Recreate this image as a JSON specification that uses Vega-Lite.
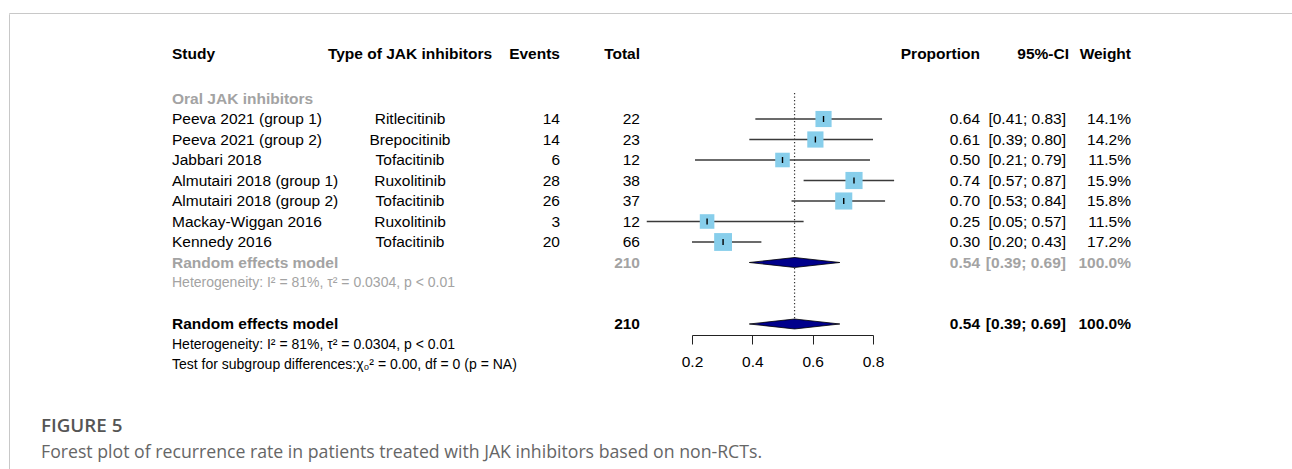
{
  "$schema": "https://vega.github.io/schema/vega-lite/v6.json",
  "padding": {"left": 8, "top": 12, "right": 0, "bottom": 0},
  "background": "white",
  "config": {
    "view": {"stroke": null},
    "font": "Liberation Sans",
    "text": {"font": "Liberation Sans", "fontSize": 15.5},
    "concat": {"spacing": 0}
  },
  "datasets": {
    "rows": [
      {"line": 0.83, "kind": "header", "study": "Study", "type": "Type of JAK inhibitors", "events": "Events", "total": "Total", "proportion": "Proportion", "ci": "95%-CI", "weight_label": "Weight"},
      {"line": 3, "kind": "group", "study": "Oral JAK inhibitors"},
      {"line": 4, "kind": "study", "study": "Peeva 2021 (group 1)", "type": "Ritlecitinib", "events": "14", "total": "22", "proportion": "0.64", "ci": "[0.41; 0.83]", "weight_label": "14.1%", "weight": 14.1, "est": 0.636, "lo": 0.41, "hi": 0.83},
      {"line": 5, "kind": "study", "study": "Peeva 2021 (group 2)", "type": "Brepocitinib", "events": "14", "total": "23", "proportion": "0.61", "ci": "[0.39; 0.80]", "weight_label": "14.2%", "weight": 14.2, "est": 0.609, "lo": 0.39, "hi": 0.80},
      {"line": 6, "kind": "study", "study": "Jabbari 2018", "type": "Tofacitinib", "events": "6", "total": "12", "proportion": "0.50", "ci": "[0.21; 0.79]", "weight_label": "11.5%", "weight": 11.5, "est": 0.50, "lo": 0.21, "hi": 0.79},
      {"line": 7, "kind": "study", "study": "Almutairi 2018 (group 1)", "type": "Ruxolitinib", "events": "28", "total": "38", "proportion": "0.74", "ci": "[0.57; 0.87]", "weight_label": "15.9%", "weight": 15.9, "est": 0.737, "lo": 0.57, "hi": 0.87},
      {"line": 8, "kind": "study", "study": "Almutairi 2018 (group 2)", "type": "Tofacitinib", "events": "26", "total": "37", "proportion": "0.70", "ci": "[0.53; 0.84]", "weight_label": "15.8%", "weight": 15.8, "est": 0.703, "lo": 0.53, "hi": 0.84},
      {"line": 9, "kind": "study", "study": "Mackay-Wiggan 2016", "type": "Ruxolitinib", "events": "3", "total": "12", "proportion": "0.25", "ci": "[0.05; 0.57]", "weight_label": "11.5%", "weight": 11.5, "est": 0.25, "lo": 0.05, "hi": 0.57},
      {"line": 10, "kind": "study", "study": "Kennedy 2016", "type": "Tofacitinib", "events": "20", "total": "66", "proportion": "0.30", "ci": "[0.20; 0.43]", "weight_label": "17.2%", "weight": 17.2, "est": 0.303, "lo": 0.20, "hi": 0.43},
      {"line": 11, "kind": "sub_model", "study": "Random effects model", "total": "210", "proportion": "0.54", "ci": "[0.39; 0.69]", "weight_label": "100.0%", "est": 0.54, "lo": 0.39, "hi": 0.69},
      {"line": 12, "kind": "sub_het", "study": "Heterogeneity: I² = 81%, τ² = 0.0304, p < 0.01"},
      {"line": 14, "kind": "model", "study": "Random effects model", "total": "210", "proportion": "0.54", "ci": "[0.39; 0.69]", "weight_label": "100.0%", "est": 0.54, "lo": 0.39, "hi": 0.69},
      {"line": 15, "kind": "het", "study": "Heterogeneity: I² = 81%, τ² = 0.0304, p < 0.01"},
      {"line": 16, "kind": "test", "study": "Test for subgroup differences:χ₀² = 0.00, df = 0 (p = NA)"}
    ]
  },
  "spacing": 0,
  "bounds": "flush",
  "vconcat": [
    {
      "width": 1284, "height": 0.01,
      "view": {"stroke": "#c8c8c8", "strokeWidth": 1},
      "data": {"values": []},
      "mark": "text",
      "encoding": {"text": {"field": "t", "type": "nominal"}}
    },
    {
      "spacing": 46,
      "bounds": "flush",
      "hconcat": [
        {
          "width": 0.01, "height": 460,
          "view": {"stroke": "#c8c8c8", "strokeWidth": 1},
          "data": {"values": []},
          "mark": "text",
          "encoding": {"text": {"field": "t", "type": "nominal"}}
        },
        {
          "title": {
            "text": "FIGURE 5",
            "subtitle": "Forest plot of recurrence rate in patients treated with JAK inhibitors based on non-RCTs.",
            "orient": "bottom", "anchor": "start", "dx": -15, "offset": 43,
            "font": "Open Sans", "fontSize": 18.8, "fontWeight": 600, "color": "#555555",
            "subtitleFont": "Open Sans", "subtitleFontSize": 17.7, "subtitleColor": "#666666", "subtitlePadding": 8
          },
          "spacing": 0,
          "bounds": "flush",
          "hconcat": [
            {
              "width": 232, "height": 360,
              "data": {"name": "rows"},
              "transform": [{"filter": "datum.study != null"}],
              "encoding": {
                "y": {"field": "line", "type": "quantitative", "scale": {"domain": [-1.122, 16.439], "reverse": true, "nice": false, "zero": false}, "axis": null},
                "text": {"field": "study", "type": "nominal"},
                "color": {"field": "kind", "type": "nominal", "legend": null,
                  "scale": {"domain": ["header", "group", "study", "sub_model", "sub_het", "model", "het", "test"], "range": ["#000000", "#a3a3a3", "#000000", "#a3a3a3", "#a3a3a3", "#000000", "#000000", "#000000"]}}
              },
              "layer": [
                {"transform": [{"filter": {"field": "kind", "oneOf": ["header", "group", "sub_model", "model"]}}], "mark": {"type": "text", "align": "left", "fontWeight": "bold"}},
                {"transform": [{"filter": {"field": "kind", "oneOf": ["study"]}}], "mark": {"type": "text", "align": "left"}},
                {"transform": [{"filter": {"field": "kind", "oneOf": ["sub_het", "het", "test"]}}], "mark": {"type": "text", "align": "left", "fontSize": 14}}
              ]
            },
            {
              "width": 244, "height": 360,
              "data": {"name": "rows"},
              "transform": [{"filter": "datum.type != null"}],
              "encoding": {
                "y": {"field": "line", "type": "quantitative", "scale": {"domain": [-1.122, 16.439], "reverse": true, "nice": false, "zero": false}, "axis": null},
                "text": {"field": "type", "type": "nominal"},
                "color": {"field": "kind", "type": "nominal", "legend": null}
              },
              "layer": [
                {"transform": [{"filter": {"field": "kind", "oneOf": ["header", "group", "sub_model", "model"]}}], "mark": {"type": "text", "align": "center", "fontWeight": "bold"}},
                {"transform": [{"filter": {"field": "kind", "oneOf": ["study"]}}], "mark": {"type": "text", "align": "center"}}
              ]
            },
            {
              "width": 56, "height": 360,
              "data": {"name": "rows"},
              "transform": [{"filter": "datum.events != null"}],
              "encoding": {
                "y": {"field": "line", "type": "quantitative", "scale": {"domain": [-1.122, 16.439], "reverse": true, "nice": false, "zero": false}, "axis": null},
                "text": {"field": "events", "type": "nominal"},
                "color": {"field": "kind", "type": "nominal", "legend": null}
              },
              "layer": [
                {"transform": [{"filter": {"field": "kind", "oneOf": ["header", "group", "sub_model", "model"]}}], "mark": {"type": "text", "align": "right", "fontWeight": "bold"}},
                {"transform": [{"filter": {"field": "kind", "oneOf": ["study"]}}], "mark": {"type": "text", "align": "right"}}
              ]
            },
            {
              "width": 104, "height": 360,
              "data": {"name": "rows"},
              "transform": [{"filter": "datum.total != null"}],
              "encoding": {
                "y": {"field": "line", "type": "quantitative", "scale": {"domain": [-1.122, 16.439], "reverse": true, "nice": false, "zero": false}, "axis": null},
                "text": {"field": "total", "type": "nominal"},
                "color": {"field": "kind", "type": "nominal", "legend": null}
              },
              "layer": [
                {"transform": [{"filter": {"field": "kind", "oneOf": ["header", "group", "sub_model", "model"]}}], "mark": {"type": "text", "align": "right", "fontWeight": "bold"}},
                {"transform": [{"filter": {"field": "kind", "oneOf": ["study"]}}], "mark": {"type": "text", "align": "right"}}
              ]
            },
            {
              "width": 181, "height": 321,
              "data": {"name": "rows"},
              "encoding": {
                "y": {"field": "line", "type": "quantitative", "scale": {"domain": [-1.122, 14.537], "reverse": true, "nice": false, "zero": false}, "axis": null}
              },
              "layer": [
                {
                  "transform": [{"filter": "datum.kind == 'model'"}],
                  "mark": {"type": "rule", "color": "#333333", "strokeWidth": 1.2, "strokeDash": [1.2, 2.3], "yOffset": -231},
                  "encoding": {
                    "x": {"field": "est", "type": "quantitative", "title": null,
                      "scale": {"domain": [0.2, 0.8], "nice": false, "zero": false},
                      "axis": {"values": [0.2, 0.4, 0.6, 0.8], "format": ".1f", "grid": false, "domainColor": "#222222", "tickColor": "#222222", "tickSize": 9, "labelFontSize": 15.5, "labelFont": "Liberation Sans", "labelColor": "#000000", "labelPadding": 10, "labelFlush": false}},
                    "y2": {"field": "line"}
                  }
                },
                {
                  "transform": [{"filter": "datum.kind == 'study'"}],
                  "mark": {"type": "rule", "color": "#3a3a3a", "strokeWidth": 1.6},
                  "encoding": {
                    "x": {"field": "lo", "type": "quantitative", "title": null},
                    "x2": {"field": "hi"}
                  }
                },
                {
                  "transform": [{"filter": "datum.kind == 'study'"}],
                  "mark": {"type": "square", "color": "#87CEEB", "opacity": 1, "filled": true},
                  "encoding": {
                    "x": {"field": "est", "type": "quantitative", "title": null},
                    "size": {"field": "weight", "type": "quantitative", "legend": null, "scale": {"domain": [0, 20], "range": [0, 370]}}
                  }
                },
                {
                  "transform": [{"filter": "datum.kind == 'study'"}],
                  "mark": {"type": "rule", "color": "#000000", "strokeWidth": 1.4, "yOffset": -3, "y2Offset": 3},
                  "encoding": {
                    "x": {"field": "est", "type": "quantitative", "title": null},
                    "y2": {"field": "line"}
                  }
                },
                {
                  "transform": [{"filter": {"field": "kind", "oneOf": ["sub_model", "model"]}}],
                  "mark": {"type": "point", "shape": "M-1,0L0,-0.11L1,0L0,0.11Z", "size": 8190, "filled": true, "fill": "#00008B", "stroke": "#000000", "strokeWidth": 0.8, "opacity": 1},
                  "encoding": {
                    "x": {"field": "est", "type": "quantitative", "title": null}
                  }
                }
              ]
            },
            {
              "width": 52, "height": 360,
              "data": {"values": []},
              "mark": "text",
              "encoding": {"text": {"field": "t", "type": "nominal"}}
            },
            {
              "width": 110, "height": 360,
              "data": {"name": "rows"},
              "transform": [{"filter": "datum.proportion != null"}],
              "encoding": {
                "y": {"field": "line", "type": "quantitative", "scale": {"domain": [-1.122, 16.439], "reverse": true, "nice": false, "zero": false}, "axis": null},
                "text": {"field": "proportion", "type": "nominal"},
                "color": {"field": "kind", "type": "nominal", "legend": null}
              },
              "layer": [
                {"transform": [{"filter": {"field": "kind", "oneOf": ["header", "group", "sub_model", "model"]}}], "mark": {"type": "text", "align": "right", "fontWeight": "bold"}},
                {"transform": [{"filter": {"field": "kind", "oneOf": ["study"]}}], "mark": {"type": "text", "align": "right"}}
              ]
            },
            {
              "width": 62, "height": 360,
              "data": {"name": "rows"},
              "transform": [{"filter": "datum.ci != null"}],
              "encoding": {
                "y": {"field": "line", "type": "quantitative", "scale": {"domain": [-1.122, 16.439], "reverse": true, "nice": false, "zero": false}, "axis": null},
                "text": {"field": "ci", "type": "nominal"},
                "color": {"field": "kind", "type": "nominal", "legend": null}
              },
              "layer": [
                {"transform": [{"filter": {"field": "kind", "oneOf": ["header"]}}], "mark": {"type": "text", "align": "right", "fontWeight": "bold", "dx": 3}},
                {"transform": [{"filter": {"field": "kind", "oneOf": ["group", "sub_model", "model"]}}], "mark": {"type": "text", "align": "right", "fontWeight": "bold"}},
                {"transform": [{"filter": {"field": "kind", "oneOf": ["study"]}}], "mark": {"type": "text", "align": "right"}}
              ]
            },
            {
              "width": 68, "height": 360,
              "data": {"name": "rows"},
              "transform": [{"filter": "datum.weight_label != null"}],
              "encoding": {
                "y": {"field": "line", "type": "quantitative", "scale": {"domain": [-1.122, 16.439], "reverse": true, "nice": false, "zero": false}, "axis": null},
                "text": {"field": "weight_label", "type": "nominal"},
                "color": {"field": "kind", "type": "nominal", "legend": null}
              },
              "layer": [
                {"transform": [{"filter": {"field": "kind", "oneOf": ["header", "group", "sub_model", "model"]}}], "mark": {"type": "text", "align": "right", "fontWeight": "bold"}},
                {"transform": [{"filter": {"field": "kind", "oneOf": ["study"]}}], "mark": {"type": "text", "align": "right"}}
              ]
            }
          ]
        }
      ]
    }
  ]
}
